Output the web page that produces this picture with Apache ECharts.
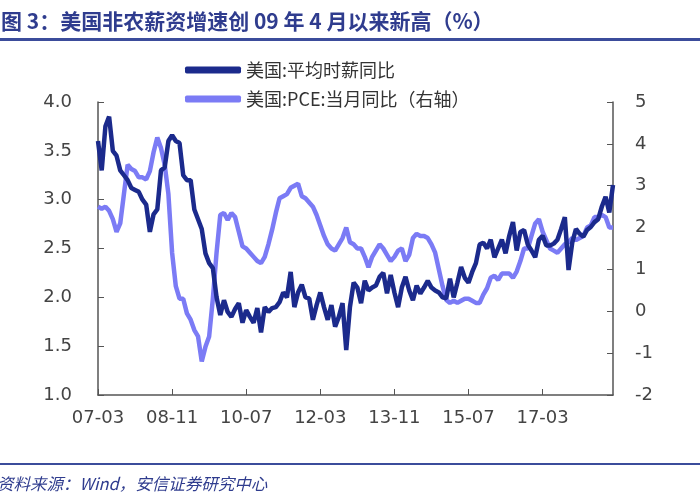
<!DOCTYPE html>
<html>
<head>
<meta charset="utf-8">
<script src="https://cdn.jsdelivr.net/npm/echarts@6/dist/echarts.min.js"></script>
<style>html,body{margin:0;padding:0;background:#fff;}#c{width:700px;height:500px;}</style>
</head>
<body>
<div id="c"></div>
<script>
// Months 2007-03 .. 2018-10
var months = [];
(function(){ for (var y = 2007; y <= 2018; y++) for (var m = 1; m <= 12; m++) {
  if (y === 2007 && m < 3) continue; if (y === 2018 && m > 10) continue;
  months.push(String(y).slice(2) + '-' + (m < 10 ? '0' + m : m)); } })();

var ahe = [
  3.6, 3.3, 3.75, 3.85, 3.5, 3.45, 3.3, 3.25, 3.2, 3.12,
  3.1, 3.08, 3.0, 2.95, 2.67, 2.85, 2.9, 3.3, 3.33, 3.6, 3.66, 3.6,
  3.58, 3.25, 3.2, 3.2, 2.9, 2.8, 2.7, 2.45, 2.35, 2.3, 2.0, 1.82,
  1.97, 1.85, 1.8, 1.88, 1.94, 1.74, 1.87, 1.8, 1.74, 1.89, 1.64, 1.9,
  1.85, 1.89, 1.9, 1.95, 2.05, 2.0, 2.26, 1.9, 2.05, 2.13, 2.0, 1.99,
  1.77, 1.92, 2.05, 1.9, 1.77, 1.92, 1.7, 1.8, 1.94, 1.46, 1.9, 2.15,
  2.1, 1.94, 2.17, 2.07, 2.1, 2.12, 2.21, 2.25, 2.04, 2.23, 2.05, 1.9,
  2.1, 2.21, 2.07, 1.97, 2.12, 2.04, 2.1, 2.17, 2.1, 2.07, 2.05, 2.0,
  1.99, 2.19, 2.0, 2.15, 2.31, 2.2, 2.15, 2.26, 2.35, 2.54, 2.56, 2.5,
  2.59, 2.41, 2.5, 2.59, 2.45, 2.63, 2.77, 2.48, 2.67, 2.69, 2.54, 2.48,
  2.41, 2.59, 2.63, 2.53, 2.53, 2.55, 2.59, 2.7, 2.82, 2.28, 2.56, 2.7,
  2.65, 2.62, 2.69, 2.72, 2.77, 2.8, 2.93, 3.03, 2.87, 3.15
];

var pce = [
  2.5, 2.45, 2.5, 2.4, 2.2, 1.9, 2.1, 2.8, 3.5, 3.4,
  3.35, 3.2, 3.2, 3.15, 3.35, 3.8, 4.15, 3.9, 3.5, 2.8, 1.4, 0.6,
  0.3, 0.3, -0.05, -0.2, -0.45, -0.6, -1.2, -0.85, -0.6, 0.3, 1.4, 2.3,
  2.35, 2.18, 2.35, 2.25, 1.9, 1.55, 1.5, 1.4, 1.3, 1.2, 1.15, 1.3,
  1.6, 1.95, 2.35, 2.7, 2.75, 2.8, 2.95, 3.0, 3.05, 2.75, 2.7, 2.6,
  2.5, 2.3, 2.05, 1.8, 1.6, 1.5, 1.45, 1.6, 1.75, 2.0, 1.65, 1.6,
  1.5, 1.5, 1.3, 1.05, 1.3, 1.45, 1.6, 1.5, 1.35, 1.2, 1.3, 1.45,
  1.5, 1.2, 1.35, 1.75, 1.85, 1.8, 1.8, 1.75, 1.6, 1.4, 1.0, 0.6,
  0.27, 0.2, 0.25, 0.2, 0.25, 0.3, 0.3, 0.25, 0.2, 0.2, 0.4, 0.55,
  0.8, 0.85, 0.75, 0.9, 0.9, 0.9, 0.8, 0.95, 1.2, 1.5, 1.5, 1.8,
  2.1, 2.2, 1.9, 1.7, 1.5, 1.45, 1.4, 1.5, 1.6, 1.65, 1.75, 1.7,
  1.75, 1.8, 2.0, 2.05, 2.25, 2.25, 2.3, 2.25, 2.0, 2.0
];

var seriesNames = ['美国:平均时薪同比', '美国:PCE:当月同比（右轴）'];
var titleText = '图 3：美国非农薪资增速创 09 年 4 月以来新高（%）';
var sourceText = '资料来源：Wind，安信证券研究中心';

var chart = echarts.init(document.getElementById('c'), null, {renderer: 'canvas'});
var axisColor = '#555';
var labelStyle = {color: '#444', fontSize: 18, fontFamily: 'DejaVu Sans, sans-serif'};
chart.setOption({
  backgroundColor: '#fff',
  animation: false,
  title: [{
    text: titleText, left: -4, top: 6,
    textStyle: {color: '#2f3c8e', fontSize: 21, fontWeight: 'bold', fontFamily: 'Noto Sans CJK SC'}
  }, {
    text: sourceText, left: -8, top: 470,
    textStyle: {color: '#2f3c8e', fontSize: 16.5, fontWeight: 'normal', fontStyle: 'italic', fontFamily: 'Noto Sans CJK SC'}
  }],
  graphic: [
    {type: 'rect', shape: {x: 0, y: 38, width: 700, height: 3}, style: {fill: '#3b4c9b'}},
    {type: 'rect', shape: {x: 0, y: 463, width: 700, height: 2}, style: {fill: '#3b4c9b'}}
  ],
  legend: {
    orient: 'vertical', left: 180, top: 56, itemGap: 11,
    itemWidth: 56, itemHeight: 7, icon: 'roundRect',
    textStyle: {color: '#333', fontSize: 18, fontFamily: 'Noto Sans CJK SC'},
    data: seriesNames
  },
  grid: {left: 98, right: 87, top: 102, bottom: 105, containLabel: false},
  xAxis: {
    type: 'category', data: months, boundaryGap: false,
    axisLine: {onZero: false, lineStyle: {color: axisColor, width: 1.5}},
    axisTick: {inside: true, length: 6, interval: 19, lineStyle: {color: axisColor}},
    axisLabel: Object.assign({interval: 19, margin: 14}, labelStyle),
    splitLine: {show: false}
  },
  yAxis: [{
    type: 'value', min: 1, max: 4, interval: 0.5,
    axisLine: {show: true, onZero: false, lineStyle: {color: axisColor, width: 1.5}},
    axisTick: {show: true, inside: true, length: 6, lineStyle: {color: axisColor}},
    axisLabel: Object.assign({margin: 26, formatter: function(v){ return v.toFixed(1); }}, labelStyle),
    splitLine: {show: false}
  }, {
    type: 'value', min: -2, max: 5, interval: 1, position: 'right',
    axisLine: {show: true, onZero: false, lineStyle: {color: axisColor, width: 1.5}},
    axisTick: {show: true, inside: true, length: 6, lineStyle: {color: axisColor}},
    axisLabel: Object.assign({margin: 22}, labelStyle),
    splitLine: {show: false}
  }],
  series: [{
    name: seriesNames[0], type: 'line', data: ahe, yAxisIndex: 0,
    showSymbol: false, symbol: 'none', z: 3,
    lineStyle: {color: '#1b2a8c', width: 4.5}, itemStyle: {color: '#1b2a8c'}
  }, {
    name: seriesNames[1], type: 'line', data: pce, yAxisIndex: 1,
    showSymbol: false, symbol: 'none', z: 2,
    lineStyle: {color: '#7b7bf5', width: 4.5}, itemStyle: {color: '#7b7bf5'}
  }]
});
</script>
</body>
</html>
